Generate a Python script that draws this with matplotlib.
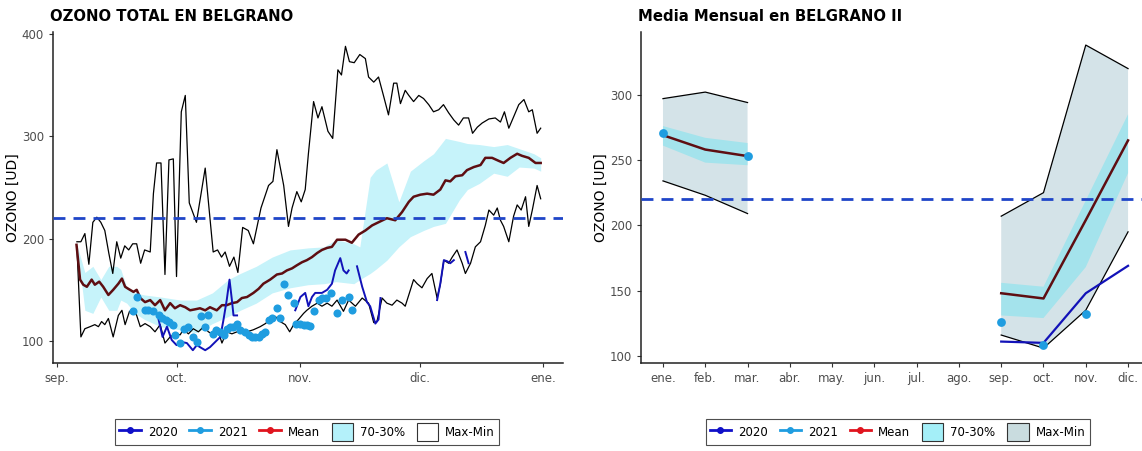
import numpy as np
import matplotlib
matplotlib.use('Agg')
import matplotlib.pyplot as plt
from matplotlib.lines import Line2D
from matplotlib.patches import Patch

# ---- daily panel (x = days since 1 Sep) ----
month_ticks = [0, 30, 61, 91, 122]
month_labels_daily = ['sep.', 'oct.', 'nov.', 'dic.', 'ene.']

max_days = [5, 6, 7, 8, 9, 10, 11, 12, 13, 14, 15, 16, 17, 18, 19, 20, 21, 22, 23.4, 24.2, 25, 26.1,
            27.1, 28.1, 29.2, 30, 31.2, 32.2, 33.2, 35, 37.2, 39.2, 40.3, 41.3, 42.2, 43.3, 44.4, 45.4,
            46.6, 48, 49.3, 51.2, 53.1, 54.2, 55.2, 56.9, 58.1, 59, 60.2, 61.3, 62.3, 63.1, 64.4, 65.5,
            66.5, 68, 69.2, 70.5, 71.4, 72.4, 73.4, 74.6, 76, 77.4, 78.2, 79.5, 80.7, 82, 83.2, 84.5,
            85.3, 86.2, 87.4, 88.3, 89.5, 90.8, 92, 93.3, 94.5, 95.8, 97, 98.3, 99.6, 100.8, 102, 103.3,
            104.3, 105.5, 106.7, 108.4, 110, 111.3, 112.3, 113.4, 114.6, 115.9, 117.2, 118.4, 119.3,
            120.5, 121.4]
max_vals = [197, 197, 205, 175, 216, 221, 216, 208, 186, 166, 197, 181, 193, 189, 195, 195, 176, 189,
            187, 244, 274, 274, 165, 277, 278, 163, 324, 340, 235, 216, 269, 187, 189, 182, 187, 173,
            182, 167, 211, 208, 195, 230, 252, 256, 287, 252, 212, 230, 246, 236, 248, 283, 334, 318,
            329, 305, 298, 365, 360, 388, 373, 372, 380, 376, 358, 353, 358, 339, 321, 352, 352, 332,
            345, 340, 334, 340, 337, 331, 324, 326, 331, 323, 316, 311, 318, 318, 303, 309, 313, 317,
            318, 314, 324, 308, 319, 331, 336, 324, 326, 303, 308]

min_days = [5, 6, 7, 8.3, 9.5, 10.4, 11.2, 12, 12.9, 14.1, 15.4, 16.3, 17.1, 18.2, 19.2, 20, 20.9,
            22.1, 23.4, 24.6, 25.9, 27.1, 28.4, 29.6, 30.9, 31.7, 33, 34.2, 35.5, 36.8, 38, 39.3, 40.5,
            41.4, 42.6, 43.9, 45.2, 46.4, 47.7, 49.3, 51, 52.3, 53.5, 54.8, 56, 57.3, 58.4, 59.4, 60.6,
            61.9, 62.7, 64, 65.3, 66.5, 67.8, 69, 70.3, 71.9, 73.2, 74.9, 76.6, 78.2, 79.5, 80.3, 81.6,
            82.8, 84.1, 85.3, 86.6, 87.4, 88.7, 89.5, 90.4, 91.6, 92.9, 94.1, 95.4, 96.2, 97.1, 98.3,
            99.2, 100.4, 101.7, 102.5, 103.8, 105, 106.3, 107.5, 108.4, 109.6, 110.5, 111.3, 112.1,
            113.4, 114.6, 115.5, 116.5, 117.6, 118.4, 119.3, 120.5, 121.4]
min_vals = [192, 104, 112, 114, 116, 114, 119, 116, 122, 104, 125, 130, 116, 129, 130, 125, 114,
            117, 114, 109, 116, 98, 104, 107, 106, 111, 107, 112, 109, 114, 109, 106, 109, 98, 109,
            107, 109, 112, 109, 111, 114, 117, 121, 124, 119, 116, 109, 116, 121, 127, 130, 134, 137,
            134, 137, 134, 140, 129, 140, 134, 142, 137, 118, 119, 142, 137, 135, 140, 137, 134, 150,
            160, 156, 152, 161, 166, 142, 155, 179, 176, 182, 189, 176, 166, 176, 192, 197, 213, 228,
            223, 230, 218, 212, 197, 222, 233, 228, 241, 212, 228, 252, 239]

mean_days = [4.9, 5.8, 6.6, 7.5, 8.7, 9.5, 10.6, 11.6, 12.9, 14.1, 15.4, 16.3, 17.1, 17.9, 19.2, 20,
             20.9, 22.1, 23.4, 24.6, 25.9, 27.1, 28.4, 29.6, 30.9, 32.2, 33.4, 34.7, 35.9, 37.2, 38.4,
             40.1, 41.4, 42.6, 43.9, 45.2, 46.4, 47.7, 49.3, 50.6, 51.8, 53.5, 55.2, 56.5, 57.7, 59,
             60.2, 61.5, 62.7, 64, 65.3, 66.5, 67.8, 69, 70.3, 72.4, 74, 75.7, 77.4, 79.1, 81.2, 82.8,
             84.9, 86.6, 88.3, 89.5, 91.2, 92.9, 94.5, 96.2, 97.5, 98.7, 100, 101.7, 102.9, 104.6,
             106.3, 107.5, 109.2, 110.9, 112.1, 113.8, 115.5, 116.7, 118.4, 120.1, 121.4]
mean_vals = [194, 160, 155, 153, 160, 155, 158, 153, 145, 150, 156, 161, 153, 151, 148, 150, 142, 138,
             140, 135, 140, 130, 137, 132, 135, 133, 130, 131, 132, 130, 133, 130, 135, 135, 137, 138,
             142, 143, 147, 151, 156, 160, 165, 166, 169, 171, 174, 177, 179, 182, 186, 189, 191, 192,
             199, 199, 196, 204, 208, 213, 217, 220, 218, 226, 236, 241, 243, 244, 243, 248, 257, 256,
             261, 262, 267, 270, 272, 279, 279, 276, 274, 279, 283, 281, 279, 274, 274]

band_days = [5, 7, 9, 11, 13, 15, 16, 17.5, 19.6, 22, 26, 31, 35, 39, 43, 46, 50, 54, 58.5, 63, 67,
             70, 74.5, 76, 78.6, 80, 82.8, 85.8, 88.7, 92, 94.5, 97.5, 101, 103, 106, 109.6, 113, 116,
             119.7, 121.4]
p70_vals = [194, 167, 173, 160, 173, 173, 170, 153, 147, 145, 143, 140, 140, 147, 160, 166, 173, 182,
            189, 191, 192, 199, 195, 192, 260, 267, 274, 236, 266, 276, 283, 298, 295, 293, 292, 290,
            292, 288, 283, 279]
p30_vals = [194, 130, 127, 143, 130, 130, 140, 137, 127, 121, 114, 111, 108, 117, 124, 130, 137, 147,
            152, 155, 156, 158, 156, 160, 166, 170, 179, 192, 202, 208, 212, 215, 238, 248, 254, 264,
            261, 270, 269, 266]

y2020_days = [25.5, 26.5, 27.6, 28.8, 30, 31.3, 32.6, 34.1, 35.1, 35.9, 37.2, 38.4, 39.7, 41, 41.8,
              42.6, 43.3, 43.9, 44.3, 45.2, np.nan,
              59.8, 61.1, 62.3, 63.1, 64, 64.8, 66.5, 67.8, 69, 69.8, 71.1, 71.9, 72.7, 73.2, np.nan,
              75.3, 76.6, 77.8, 78.6, 79.9, 80.7, 81.2, np.nan,
              95.4, 96.2, 97.1, 97.9, 98.7, 99.6, np.nan,
              102.5, 103.3]
y2020_vals = [121, 104, 114, 101, 96, 99, 98, 91, 96, 94, 91, 94, 99, 104, 121, 140, 160, 140, 125, 125,
              np.nan,
              130, 143, 147, 134, 143, 147, 147, 150, 156, 169, 181, 169, 166, 169, np.nan,
              173, 153, 138, 134, 117, 121, 142, np.nan,
              140, 156, 179, 178, 176, 179, np.nan,
              187, 176]

y2021_days = [19.2, 20, 22.1, 22.9, 24.2, 25.5, 26.3, 27.4, 28, 29.1, 29.6, 30.9, 31.9, 33, 34.1, 35.1,
              36.1, 37.2, 38, 39.1, 40, 41, 41.8, 42.6, 43.5, 44.3, 45.2, 46, 47.2, 48.1, 48.9, 49.7,
              50.6, 51.4, 52.3, 53.1, 53.9, 55.2, 56, 57, 58.1, 59.4, 60, 61.1, 61.9, 62.7, 63.4, 64.4,
              65.7, 66.5, 67.6, 68.8, 70.2, 71.5, 73.2, 74]
y2021_vals = [129, 143, 130, 130, 129, 125, 122, 121, 119, 116, 106, 98, 112, 114, 104, 99, 124, 114,
              125, 107, 111, 109, 106, 112, 114, 114, 117, 111, 109, 106, 104, 104, 104, 107, 109, 121,
              122, 132, 122, 156, 145, 137, 117, 117, 116, 116, 115, 129, 140, 142, 142, 147, 127, 140,
              143, 130]

# ---- monthly panel ----
months = np.arange(1, 13)
month_labels = ['ene.', 'feb.', 'mar.', 'abr.', 'may.', 'jun.', 'jul.', 'ago.', 'sep.', 'oct.', 'nov.', 'dic.']
nan = np.nan
m_max = [297, 302, 294, nan, nan, nan, nan, nan, 207, 225, 338, 320]
m_min = [234, 223, 209, nan, nan, nan, nan, nan, 116, 106, 135, 195]
m_p70 = [276, 267, 263, nan, nan, nan, nan, nan, 156, 153, 219, 285]
m_p30 = [261, 248, 246, nan, nan, nan, nan, nan, 131, 129, 168, 240]
m_mean = [269, 258, 253, nan, nan, nan, nan, nan, 148, 144, 204, 265]
m_2020 = [nan, nan, nan, nan, nan, nan, nan, nan, 111, 110, 148, 169]
m_2021 = [271, nan, 253, nan, nan, nan, nan, nan, 126, 108, 132, nan]

C2020 = '#1212b8'
C2021 = '#1f9de0'
CMEAN = '#5e0e12'
CREF = '#1f45c8'

fig = plt.figure(figsize=(11.42, 4.51), dpi=100)
ax1 = fig.add_axes([53 / 1142, 88 / 451, 510 / 1142, 331 / 451])
ax2 = fig.add_axes([641 / 1142, 88 / 451, 501 / 1142, 331 / 451])

# left: daily
ax1.fill_between(band_days, p30_vals, p70_vals, color='#c6f3fa', lw=0, zorder=1)
ax1.plot(max_days, max_vals, color='black', lw=0.9, zorder=2)
ax1.plot(min_days, min_vals, color='black', lw=0.9, zorder=2)
ax1.plot(mean_days, mean_vals, color=CMEAN, lw=1.8, zorder=3)
ax1.plot(y2020_days, y2020_vals, color=C2020, lw=1.4, zorder=4)
ax1.scatter(y2021_days, y2021_vals, s=34, color=C2021, lw=0, zorder=5)
ax1.axhline(220, color=CREF, lw=2, dashes=(4.3, 2.9), zorder=6)
ax1.set_xlim(-1, 127)
ax1.set_ylim(78.5, 402)
ax1.set_xticks(month_ticks)
ax1.set_xticklabels(month_labels_daily)
ax1.set_yticks([100, 200, 300, 400])
ax1.set_ylabel('OZONO [UD]', fontsize=10, labelpad=1)
ax1.set_title('OZONO TOTAL EN BELGRANO', loc='left', fontsize=10.7, fontweight='bold', x=-0.005, pad=8)

# right: monthly
fin = np.isfinite(np.array(m_max, dtype=float))
ax2.fill_between(months, m_min, m_max, where=fin, color='#d4e3e8', lw=0, zorder=1)
ax2.fill_between(months, m_p30, m_p70, where=fin, color='#a4e3ec', lw=0, zorder=2)
ax2.plot(months, m_max, color='black', lw=0.9, zorder=3)
ax2.plot(months, m_min, color='black', lw=0.9, zorder=3)
ax2.plot(months, m_mean, color=CMEAN, lw=1.8, zorder=4)
ax2.plot(months, m_2020, color=C2020, lw=1.6, zorder=5)
ax2.scatter(months, m_2021, s=40, color=C2021, lw=0, zorder=6)
ax2.axhline(220, color=CREF, lw=2, dashes=(4.3, 2.9), zorder=7)
ax2.set_xlim(0.48, 12.33)
ax2.set_ylim(94.6, 348)
ax2.set_xticks(months)
ax2.set_xticklabels(month_labels)
ax2.set_yticks([100, 150, 200, 250, 300])
ax2.set_ylabel('OZONO [UD]', fontsize=10, labelpad=1)
ax2.set_title('Media Mensual en BELGRANO II', loc='left', fontsize=10.7, fontweight='bold', x=-0.005, pad=8)

for ax in (ax1, ax2):
    for s in ('top', 'right'):
        ax.spines[s].set_visible(False)
    for s in ('left', 'bottom'):
        ax.spines[s].set_linewidth(1.1)
        ax.spines[s].set_color('#222222')
    ax.tick_params(labelsize=8.5, labelcolor='#4d4d4d', color='#333333', length=3)


def legend_for(maxmin_color, band_color, cx):
    handles = [
        Line2D([], [], color='#1010c8', lw=2, marker='o', ms=4),
        Line2D([], [], color=C2021, lw=2, marker='o', ms=4),
        Line2D([], [], color='#e0141e', lw=2, marker='o', ms=4),
        Patch(facecolor=band_color, edgecolor='#333333', lw=0.8),
        Patch(facecolor=maxmin_color, edgecolor='#333333', lw=0.8),
    ]
    labels = ['2020', '2021', 'Mean', '70-30%', 'Max-Min']
    leg = fig.legend(handles, labels, loc='center', bbox_to_anchor=(cx, 0.042), ncol=5,
                     fontsize=8.5, frameon=True, fancybox=False, handlelength=1.8,
                     handleheight=1.9, columnspacing=1.0, handletextpad=0.6, borderpad=0.35)
    leg.get_frame().set_edgecolor('#222222')
    leg.get_frame().set_linewidth(0.8)


legend_for('white', '#b4f1fa', 0.269)
legend_for('#c9dcdf', '#a4eff8', 0.786)

fig.savefig('out.png', dpi=100)
